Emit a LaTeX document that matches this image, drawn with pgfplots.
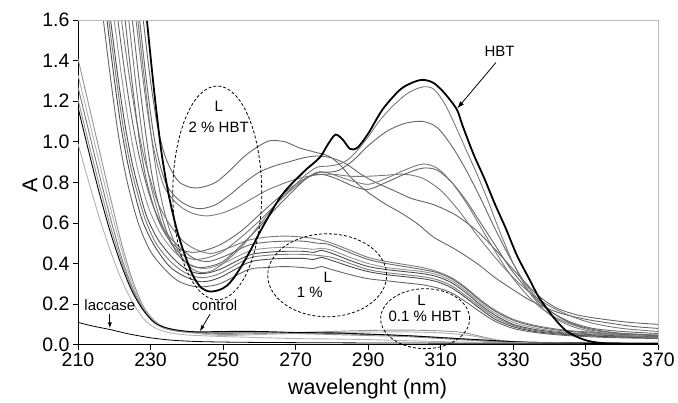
\documentclass[border=0pt]{standalone}
\usepackage{fontspec}
\setmainfont{Liberation Sans}
\usepackage{pgfplots}
\pgfplotsset{compat=1.18}
\usetikzlibrary{arrows.meta}
\definecolor{gA}{gray}{0.30}
\definecolor{gB}{gray}{0.40}
\definecolor{gC}{gray}{0.48}
\definecolor{gD}{gray}{0.58}
\definecolor{gE}{gray}{0.70}
\begin{document}
\begin{tikzpicture}
\begin{axis}[
  scale only axis, width=581pt, height=325pt,
  xmin=210, xmax=370, ymin=0, ymax=1.6,
  xtick={210,230,250,270,290,310,330,350,370},
  ytick={0,0.2,0.4,0.6,0.8,1.0,1.2,1.4,1.6},
  axis x line*=bottom, axis y line*=left,
  axis line style={-, black, line width=0.8pt},
  tick align=outside, major tick length=5pt,
  tick style={black, line width=0.8pt},
  yticklabel style={/pgf/number format/.cd, fixed, fixed zerofill, precision=1},
  /pgf/number format/assume math mode=true,
  ticklabel style={font=\fontsize{19.5}{21}\selectfont},
  xlabel={wavelenght (nm)}, ylabel={A},
  label style={font=\fontsize{21.5}{24}\selectfont},
  xlabel style={at={(axis description cs:0.499,-0.154)}, anchor=base},
  ylabel style={at={(axis description cs:-0.0826,0.492)}, anchor=center},
  clip mode=individual,
  every axis plot/.append style={smooth, line width=0.9pt},
]
% --- low group: laccase, control, 0.1 % HBT ---
\addplot[gD] coordinates {(210,1.41)(213,1.18)(216,0.95)(219,0.72)(222,0.50)(225,0.32)(228,0.19)(231,0.12)(234,0.085)(238,0.07)(242,0.06)(250,0.05)(260,0.055)(270,0.06)(280,0.065)(290,0.07)(300,0.072)(310,0.068)(316,0.06)(320,0.045)(325,0.025)(330,0.015)(340,0.01)(370,0.008)};
\addplot[gE] coordinates {(210,1.33)(213,1.11)(216,0.89)(219,0.67)(222,0.47)(225,0.30)(228,0.18)(231,0.115)(234,0.08)(238,0.065)(243,0.055)(250,0.045)(260,0.05)(270,0.055)(280,0.06)(290,0.062)(300,0.063)(310,0.058)(318,0.045)(324,0.025)(330,0.015)(345,0.01)(370,0.008)};
\addplot[gC] coordinates {(210,1.27)(213,1.05)(216,0.83)(219,0.62)(222,0.43)(225,0.28)(228,0.175)(231,0.11)(234,0.08)(238,0.065)(243,0.06)(250,0.055)(260,0.06)(270,0.058)(280,0.055)(290,0.05)(300,0.045)(310,0.035)(320,0.022)(330,0.012)(345,0.008)(370,0.006)};
\addplot[gD] coordinates {(210,1.21)(213,0.99)(216,0.78)(219,0.58)(222,0.41)(225,0.27)(228,0.17)(231,0.11)(234,0.08)(238,0.068)(243,0.062)(250,0.06)(260,0.06)(270,0.055)(280,0.05)(290,0.045)(300,0.04)(310,0.03)(320,0.02)(330,0.012)(370,0.006)};
\addplot[black] coordinates {(210,1.17)(213,0.95)(216,0.74)(219,0.55)(222,0.39)(225,0.26)(228,0.17)(231,0.11)(234,0.085)(238,0.07)(243,0.063)(250,0.065)(260,0.065)(270,0.06)(280,0.058)(290,0.052)(300,0.045)(310,0.035)(320,0.025)(330,0.015)(340,0.01)(370,0.006)};
\addplot[gE] coordinates {(210,0.99)(213,0.80)(216,0.62)(219,0.46)(222,0.32)(225,0.21)(228,0.13)(231,0.085)(235,0.06)(240,0.048)(250,0.04)(260,0.035)(270,0.03)(280,0.028)(290,0.025)(300,0.02)(320,0.012)(370,0.005)};
\addplot[black, line width=0.8pt] coordinates {(210,0.11)(214,0.092)(219,0.074)(224,0.053)(230,0.034)(236,0.022)(244,0.015)(260,0.011)(300,0.008)(370,0.006)};
% --- 1 % group ---
\addplot[gC] coordinates {(222,1.60)(224,1.34)(226,1.12)(228,0.94)(230,0.81)(232,0.70)(235,0.60)(239,0.51)(243,0.465)(247,0.45)(252,0.48)(257,0.515)(262,0.53)(267,0.535)(272,0.53)(276,0.52)(280,0.50)(285,0.465)(290,0.43)(295,0.41)(300,0.395)(305,0.38)(309,0.36)(313,0.33)(317,0.28)(321,0.22)(325,0.17)(330,0.125)(336,0.095)(344,0.072)(355,0.058)(370,0.048)};
\addplot[gB] coordinates {(221,1.60)(223,1.33)(225,1.10)(227,0.92)(229,0.78)(231,0.67)(234,0.56)(238,0.48)(242,0.425)(246,0.41)(251,0.44)(257,0.49)(262,0.505)(267,0.51)(272,0.51)(276,0.50)(279,0.495)(284,0.46)(290,0.42)(295,0.40)(300,0.385)(305,0.37)(309,0.355)(313,0.325)(317,0.275)(321,0.215)(325,0.165)(330,0.12)(336,0.09)(344,0.068)(355,0.054)(370,0.044)};
\addplot[gD] coordinates {(220,1.60)(222,1.325)(224,1.09)(226,0.90)(228,0.76)(230,0.65)(233,0.54)(237,0.45)(241,0.395)(245,0.375)(250,0.40)(257,0.46)(262,0.475)(267,0.48)(272,0.475)(275,0.47)(277,0.475)(280,0.465)(285,0.43)(290,0.40)(295,0.38)(300,0.37)(305,0.36)(309,0.345)(313,0.315)(317,0.265)(321,0.205)(325,0.155)(330,0.11)(336,0.082)(344,0.062)(355,0.05)(370,0.04)};
\addplot[gA] coordinates {(219,1.60)(221,1.32)(223,1.08)(225,0.89)(227,0.75)(229,0.63)(232,0.52)(236,0.43)(240,0.37)(244,0.35)(249,0.37)(257,0.44)(262,0.455)(267,0.46)(272,0.46)(275,0.455)(277,0.465)(280,0.45)(285,0.415)(290,0.385)(295,0.37)(300,0.36)(305,0.35)(309,0.335)(313,0.305)(317,0.255)(321,0.195)(325,0.145)(330,0.10)(336,0.075)(344,0.058)(355,0.046)(370,0.038)};
\addplot[gC] coordinates {(218.5,1.60)(220.5,1.32)(222.5,1.07)(224.5,0.88)(226.5,0.74)(228.5,0.62)(231.5,0.50)(235.5,0.41)(239.5,0.355)(244,0.33)(249,0.35)(257,0.425)(262,0.44)(267,0.445)(272,0.445)(276,0.44)(280,0.43)(285,0.40)(290,0.37)(295,0.355)(300,0.345)(305,0.335)(309,0.32)(313,0.29)(317,0.24)(321,0.185)(325,0.135)(330,0.095)(336,0.07)(344,0.054)(355,0.043)(370,0.035)};
\addplot[gA] coordinates {(218,1.60)(220,1.31)(222,1.06)(224,0.87)(226,0.72)(228,0.60)(231,0.49)(235,0.39)(239,0.34)(244,0.31)(249,0.33)(257,0.405)(262,0.42)(267,0.425)(272,0.425)(275,0.42)(277,0.43)(280,0.415)(285,0.385)(290,0.36)(295,0.345)(300,0.335)(305,0.325)(309,0.31)(313,0.28)(317,0.23)(321,0.175)(325,0.125)(330,0.088)(336,0.065)(344,0.05)(355,0.04)(370,0.032)};
\addplot[gB] coordinates {(217,1.60)(219,1.31)(221,1.05)(223,0.85)(225,0.70)(227,0.58)(230,0.46)(234,0.37)(238,0.31)(243,0.285)(249,0.30)(257,0.37)(262,0.38)(267,0.385)(272,0.38)(275,0.375)(277,0.385)(280,0.37)(285,0.345)(290,0.325)(295,0.315)(300,0.305)(305,0.295)(309,0.28)(313,0.255)(317,0.21)(321,0.16)(325,0.115)(330,0.08)(336,0.06)(344,0.046)(355,0.036)(370,0.03)};
% --- 2 % HBT group ---
\addplot[gB] coordinates {(228,1.6)(230,1.30)(232,1.07)(234,0.93)(236,0.85)(238,0.80)(241,0.775)(244,0.775)(248,0.80)(252,0.86)(256,0.93)(260,0.98)(263,1.005)(267,1.00)(271,0.97)(275,0.95)(279,0.93)(282,0.89)(286,0.81)(290,0.75)(295,0.69)(299,0.65)(304,0.59)(308,0.53)(314,0.47)(320,0.40)(325,0.33)(330,0.27)(334,0.225)(338,0.19)(343,0.155)(350,0.125)(357,0.105)(363,0.09)(370,0.08)};
\addplot[gB] coordinates {(227,1.6)(229,1.28)(231,1.02)(233,0.86)(235,0.77)(238,0.71)(241,0.68)(244,0.67)(248,0.69)(252,0.74)(256,0.80)(260,0.85)(264,0.88)(268,0.90)(272,0.92)(276,0.93)(280,0.92)(284,0.89)(288,0.84)(292,0.80)(297,0.76)(302,0.72)(308,0.69)(314,0.64)(320,0.56)(326,0.45)(332,0.33)(337,0.24)(342,0.18)(348,0.145)(355,0.125)(362,0.11)(370,0.10)};
\addplot[gC] coordinates {(226,1.6)(228,1.3)(230,1.05)(232,0.88)(234,0.77)(237,0.70)(240,0.66)(243,0.64)(246,0.635)(250,0.65)(254,0.68)(258,0.72)(262,0.76)(266,0.79)(270,0.815)(275,0.835)(280,0.84)(285,0.83)(290,0.83)(295,0.835)(300,0.84)(305,0.82)(310,0.76)(315,0.66)(320,0.54)(325,0.43)(330,0.33)(335,0.25)(340,0.19)(346,0.14)(352,0.105)(360,0.08)(370,0.065)};
\addplot[gB] coordinates {(223,1.6)(225,1.28)(227,1.0)(229,0.80)(232,0.62)(235,0.52)(238,0.47)(242,0.455)(246,0.47)(250,0.50)(255,0.56)(260,0.64)(265,0.72)(270,0.79)(274,0.83)(277,0.84)(281,0.82)(286,0.78)(290,0.765)(295,0.80)(300,0.84)(305,0.87)(309,0.86)(313,0.80)(317,0.71)(321,0.60)(325,0.49)(329,0.38)(333,0.29)(337,0.21)(341,0.155)(346,0.11)(352,0.08)(360,0.065)(370,0.055)};
\addplot[gC] coordinates {(224,1.6)(226,1.28)(228,1.0)(230,0.79)(233,0.60)(236,0.49)(239,0.44)(242,0.42)(246,0.43)(250,0.46)(255,0.53)(260,0.61)(265,0.70)(270,0.78)(274,0.83)(277,0.85)(280,0.84)(285,0.81)(290,0.79)(295,0.82)(300,0.86)(305,0.89)(309,0.87)(313,0.80)(317,0.70)(321,0.58)(325,0.46)(329,0.35)(333,0.26)(337,0.19)(341,0.14)(346,0.10)(352,0.07)(360,0.055)(370,0.045)};
\addplot[gB] coordinates {(225,1.6)(227,1.28)(229,1.0)(231,0.78)(234,0.58)(237,0.46)(240,0.40)(243,0.38)(246,0.385)(250,0.41)(255,0.49)(260,0.58)(265,0.68)(270,0.77)(273,0.82)(276,0.85)(279,0.85)(282,0.86)(286,0.91)(290,0.98)(295,1.05)(300,1.09)(305,1.10)(309,1.07)(313,0.98)(317,0.86)(321,0.72)(325,0.57)(329,0.43)(333,0.31)(337,0.22)(341,0.155)(346,0.105)(352,0.075)(360,0.055)(370,0.045)};
\addplot[gC] coordinates {(226.5,1.6)(228.5,1.28)(230.5,0.99)(232.5,0.76)(235,0.58)(238,0.45)(241,0.38)(244,0.355)(247,0.365)(250,0.40)(255,0.48)(260,0.59)(265,0.70)(270,0.79)(273,0.84)(276,0.875)(279,0.88)(282,0.89)(285,0.92)(289,1.00)(293,1.10)(297,1.18)(301,1.24)(305,1.27)(308,1.26)(311,1.19)(314,1.08)(317,0.96)(320,0.84)(323,0.71)(326,0.57)(330,0.40)(334,0.27)(338,0.18)(342,0.125)(347,0.085)(353,0.06)(360,0.045)(370,0.035)};
% --- HBT ---
\addplot[black, line width=1.8pt] coordinates {(229,1.6)(231,1.25)(233,0.95)(235,0.74)(237.2,0.57)(239.5,0.44)(241.7,0.34)(244,0.28)(246.4,0.262)(249,0.27)(251,0.29)(253,0.33)(255.5,0.40)(258,0.48)(260,0.55)(262.5,0.63)(264.8,0.70)(267,0.755)(269.3,0.80)(271,0.83)(273,0.865)(275,0.895)(277,0.93)(279,0.99)(281,1.035)(283,1.01)(285,0.965)(287,0.97)(290,1.04)(294,1.16)(298.7,1.255)(302,1.29)(305,1.305)(308,1.29)(311,1.24)(314.4,1.16)(316,1.08)(319,0.94)(322,0.82)(325,0.69)(328,0.57)(331,0.44)(334.5,0.32)(337,0.235)(340,0.16)(342,0.115)(344.7,0.066)(348,0.035)(351,0.017)(355,0.007)(360,0.004)(370,0.003)};
% --- frame (top and right in grey) ---
\draw[gray!55, line width=0.8pt] (rel axis cs:0,1) -- (rel axis cs:1,1) -- (rel axis cs:1,0);
% --- annotations ---
\begin{scope}[font=\fontsize{15}{17}\selectfont]
\draw[black, densely dashed, line width=0.8pt] (axis cs:248.4,0.748) ellipse [x radius=44.5pt, y radius=107pt];
\node at (axis cs:248.8,1.172) {L};
\node at (axis cs:248.8,1.07) {2 \% HBT};
\draw[black, densely dashed, line width=0.8pt] (axis cs:278.7,0.342) ellipse [x radius=59.5pt, y radius=41.5pt];
\node at (axis cs:278.9,0.33) {L};
\node at (axis cs:273.9,0.26) {1 \%};
\draw[black, densely dashed, line width=0.8pt] (axis cs:305.7,0.128) ellipse [x radius=44.5pt, y radius=30pt];
\node at (axis cs:304.7,0.22) {L};
\node at (axis cs:305.6,0.138) {0.1 \% HBT};
\node at (axis cs:326.2,1.443) {HBT};
\draw[-{Latex[length=7pt,width=5pt]}, line width=0.8pt] (axis cs:325.2,1.39) -- (axis cs:314.6,1.165);
\node at (axis cs:218.8,0.197) {laccase};
\draw[-{Latex[length=6pt,width=4pt]}, line width=0.8pt] (axis cs:218.8,0.15) -- (axis cs:218.8,0.08);
\node at (axis cs:247.7,0.197) {control};
\draw[-{Latex[length=6pt,width=4pt]}, line width=0.8pt] (axis cs:246.4,0.15) -- (axis cs:243.6,0.066);
\end{scope}
\coordinate (bbA) at (rel axis cs:-0.1343,-0.1723);
\coordinate (bbB) at (rel axis cs:1.0327,1.0615);
\end{axis}
\path (bbA) rectangle (bbB);
\end{tikzpicture}
\end{document}
